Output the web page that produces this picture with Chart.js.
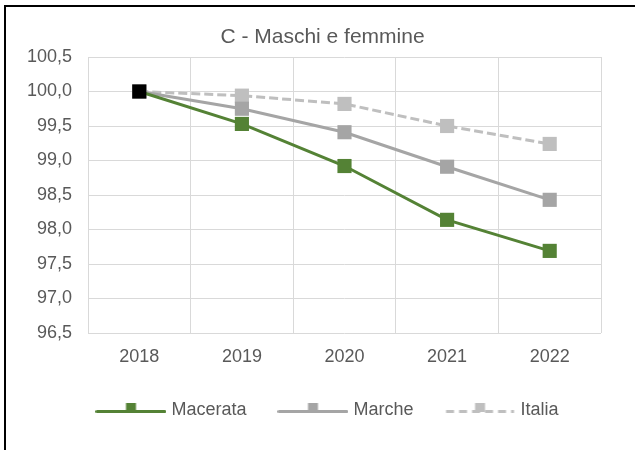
<!DOCTYPE html>
<html><head><meta charset="utf-8">
<script src="https://cdn.jsdelivr.net/npm/chart.js@4"></script>
<style>
html,body{margin:0;padding:0;background:#fff;overflow:hidden;width:635px;height:450px}
#frame{position:absolute;left:4px;top:5px;width:700px;height:500px;border-top:2px solid #000;border-left:2px solid #000;box-sizing:border-box}
#c{position:absolute;left:0;top:0}
</style></head><body>
<div id="frame"></div>
<canvas id="c" width="635" height="450"></canvas>
<script>
const categories = ['2018', '2019', '2020', '2021', '2022'];
const seriesNames = ['Macerata', 'Marche', 'Italia'];
const macerata = [100.0, 99.53, 98.92, 98.14, 97.69];
const marche = [100.0, 99.75, 99.41, 98.91, 98.43];
const italia = [100.0, 99.94, 99.82, 99.50, 99.24];
const yMin = 96.5, yMax = 100.5, yStep = 0.5;
const titleText = 'C - Maschi e femmine';

const FONT = '"Liberation Sans", Arial, sans-serif';
const TEXT = '#595959';
const GREEN = '#548235', GREY = '#A5A5A5', LIGHT = '#BFBFBF';

function legendIcon(color, dashed) {
  const c = document.createElement('canvas');
  c.width = 71; c.height = 16;
  const g = c.getContext('2d');
  g.strokeStyle = color; g.lineWidth = 3; g.lineCap = dashed ? 'butt' : 'round';
  if (dashed) g.setLineDash([8, 5]);
  g.beginPath(); g.moveTo(1.5, 9.5); g.lineTo(69.5, 9.5); g.stroke();
  g.fillStyle = color;
  g.fillRect(30.5, 1, 10, 9);
  return c;
}
const icons = [legendIcon(GREEN, false), legendIcon(GREY, false), legendIcon(LIGHT, true)];

const shiftBoxes = {
  id: 'shiftBoxes',
  afterLayout(chart) {
    const lg = chart.legend;
    if (lg) { lg.left += 28.5; lg.right += 28.5; }
    const t = chart.titleBlock;
    if (t) { t.left += 22; t.right += 22; }
  }
};

new Chart(document.getElementById('c'), {
  type: 'line',
  data: {
    labels: categories,
    datasets: [
      { label: seriesNames[0], data: macerata, borderColor: GREEN, borderWidth: 3,
        pointStyle: 'rect', pointRadius: 10, pointHoverRadius: 10, pointBorderWidth: 0,
        pointBackgroundColor: ['#000000', GREEN, GREEN, GREEN, GREEN], tension: 0 },
      { label: seriesNames[1], data: marche, borderColor: GREY, borderWidth: 3,
        pointStyle: 'rect', pointRadius: 10, pointHoverRadius: 10, pointBorderWidth: 0,
        pointBackgroundColor: GREY, tension: 0 },
      { label: seriesNames[2], data: italia, borderColor: LIGHT, borderWidth: 3, borderDash: [9, 4],
        pointStyle: 'rect', pointRadius: 10, pointHoverRadius: 10, pointBorderWidth: 0,
        pointBackgroundColor: LIGHT, tension: 0 }
    ]
  },
  options: {
    responsive: false, animation: false, devicePixelRatio: 1,
    layout: { padding: { top: 0, left: 0, right: 34, bottom: 21 } },
    plugins: {
      tooltip: { enabled: false },
      title: { display: true, text: titleText, color: TEXT,
        font: { size: 21, family: FONT, weight: 'normal' }, padding: { top: 25, bottom: 6.8 } },
      legend: {
        position: 'bottom',
        labels: {
          font: { size: 18, family: FONT }, color: TEXT, usePointStyle: true, pointStyleWidth: 63,
          padding: 35,
          generateLabels(chart) {
            return chart.data.datasets.map((d, i) => ({
              text: d.label, pointStyle: icons[i], fillStyle: d.borderColor, strokeStyle: d.borderColor,
              lineWidth: 0, hidden: false, datasetIndex: i, fontColor: TEXT
            }));
          }
        }
      }
    },
    scales: {
      x: {
        offset: true,
        grid: { offset: true, color: '#D9D9D9', lineWidth: 1, drawTicks: false },
        border: { display: false },
        ticks: { color: TEXT, font: { size: 18, family: FONT }, padding: 13 },
        afterFit(s) { s.height = 33; }
      },
      y: {
        min: yMin, max: yMax,
        grid: { color: '#D9D9D9', lineWidth: 1, drawTicks: false },
        border: { display: false },
        ticks: { stepSize: yStep, color: TEXT, font: { size: 18, family: FONT }, padding: 16,
          callback: v => v.toFixed(1).replace('.', ',') },
        afterFit(s) { s.width = 88; }
      }
    }
  },
  plugins: [shiftBoxes]
});
</script>
</body></html>
